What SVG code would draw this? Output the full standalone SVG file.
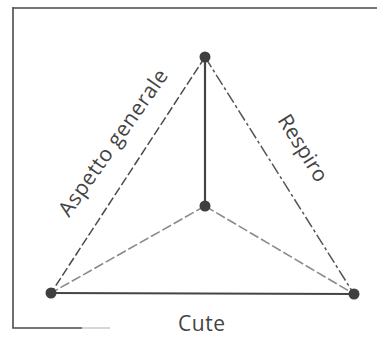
<svg xmlns="http://www.w3.org/2000/svg" width="377" height="338" viewBox="0 0 377 338">
<style>
.frame{fill:none;stroke:#4a4a4a;stroke-width:1.6}
.solid{stroke:#444;stroke-width:2.2;fill:none}
.dash{stroke:#4a4a4a;stroke-width:1.5;stroke-dasharray:9 3;fill:none}
.dashdot{stroke:#555;stroke-width:1.5;stroke-dasharray:12 3 3 3;fill:none}
.light{stroke:#8a8a8a;stroke-width:1.6;stroke-dasharray:10 3;fill:none}
.node{fill:#3f3f3f}
.lbl{font-family:"Open Sans","DejaVu Sans",sans-serif;font-size:21px;fill:#444}
</style>
<rect width="377" height="338" fill="#fff"/>
<path class="frame" d="M13,7 V328 H82 M13,8 H377"/>
<path d="M82,328 H110" stroke="#bbb" stroke-width="1.2"/>
<g id="connectors">
<line class="dash" x1="205" y1="57" x2="51" y2="293"/>
<line class="dashdot" x1="205" y1="57" x2="354" y2="294"/>
<line class="solid" x1="205" y1="57" x2="205" y2="206"/>
<line class="light" x1="205" y1="206" x2="51" y2="293"/>
<line class="light" x1="205" y1="206" x2="354" y2="294"/>
<line class="solid" x1="51" y1="293" x2="354" y2="294"/>
</g>
<g id="node-top"><circle class="node" cx="205" cy="57" r="5.5"/></g>
<g id="node-center"><circle class="node" cx="205" cy="206" r="5.5"/></g>
<g id="node-left"><circle class="node" cx="51" cy="293" r="5.5"/></g>
<g id="node-right"><circle class="node" cx="354" cy="294" r="5.5"/></g>
<g id="labels">
<text class="lbl" transform="translate(69,218) rotate(-55)" textLength="174" lengthAdjust="spacing">Aspetto generale</text>
<text class="lbl" transform="translate(277,120) rotate(58)" textLength="75" lengthAdjust="spacing">Respiro</text>
<text class="lbl" x="178" y="331" textLength="47" lengthAdjust="spacing">Cute</text>
</g>
</svg>
